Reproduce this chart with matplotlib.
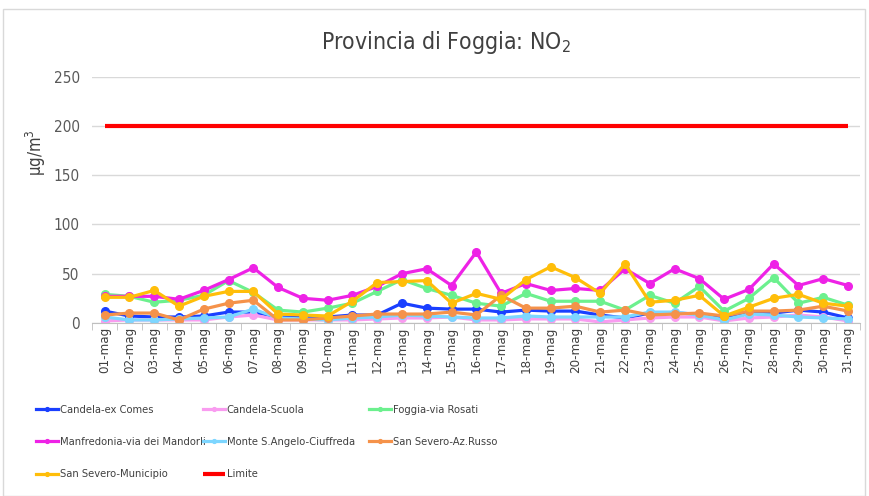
import numpy as np
import matplotlib
matplotlib.use('Agg')
import matplotlib.pyplot as plt
from matplotlib.patches import Rectangle

plt.rcParams['font.family'] = ['DejaVu Sans']
plt.rcParams['font.stretch'] = 'condensed'

# giorni di maggio
giorni = ['%02d-mag' % d for d in range(1, 32)]

candela_ex_comes = [12, 7, 6, 6, 7, 11, 11, 6, 6, 6, 8, 8, 20, 15, 14, 14, 11, 13, 12, 12, 8, 5, 10, 10, 9, 6, 11, 10, 13, 11, 5]
candela_scuola = [2, 3, 3, 3, 3, 6, 8, 3, 3, 3, 3, 4, 5, 5, 6, 3, 3, 4, 4, 4, 1, 3, 5, 6, 6, 2, 5, 6, 8, 6, 2]
foggia_rosati = [29, 27, 21, 23, 28, 43, 31, 13, 11, 15, 20, 32, 44, 35, 28, 20, 17, 30, 22, 22, 22, 13, 28, 20, 37, 12, 25, 46, 20, 26, 18]
manfredonia = [27, 27, 27, 24, 33, 44, 56, 36, 25, 23, 28, 37, 50, 55, 38, 72, 30, 40, 33, 35, 33, 55, 40, 55, 45, 24, 34, 60, 38, 45, 38]
monte_angelo = [6, 3, 3, 4, 5, 6, 14, 5, 4, 3, 5, 6, 8, 7, 6, 5, 5, 7, 6, 6, 6, 6, 11, 11, 8, 3, 9, 8, 6, 5, 4]
ss_russo = [8, 10, 10, 3, 14, 20, 23, 3, 3, 5, 7, 9, 9, 9, 11, 8, 28, 15, 15, 17, 11, 13, 8, 9, 10, 7, 12, 12, 13, 17, 12]
ss_municipio = [26, 26, 33, 17, 27, 32, 32, 9, 8, 7, 22, 41, 42, 43, 20, 30, 24, 44, 57, 46, 30, 60, 21, 23, 28, 7, 16, 25, 29, 20, 17]
limite = [200] * 31

serie = [
    ('Candela-ex Comes', candela_ex_comes, '#1A3FFF'),
    ('Candela-Scuola', candela_scuola, '#F99CF0'),
    ('Foggia-via Rosati', foggia_rosati, '#6CF08E'),
    ('Manfredonia-via dei Mandorli', manfredonia, '#EE22E6'),
    ('Monte S.Angelo-Ciuffreda', monte_angelo, '#7DD6FF'),
    ('San Severo-Az.Russo', ss_russo, '#F5924A'),
    ('San Severo-Municipio', ss_municipio, '#FFBE0A'),
]

fig = plt.figure(figsize=(8.7, 4.96), dpi=100)
ax = fig.add_axes([0.106, 0.349, 0.883, 0.496])

x = np.arange(len(giorni))
handles = []
for nome, vals, col in serie:
    h, = ax.plot(x, vals, color=col, lw=2.3, marker='o', ms=5.5, label=nome)
    handles.append(h)
h, = ax.plot(x, limite, color='#FF0000', lw=3, label='Limite', solid_capstyle='butt')
handles.append(h)

ax.set_xlim(-0.5, len(giorni) - 0.5)
ax.set_ylim(0, 250)
ax.set_yticks(range(0, 251, 50))
ax.grid(axis='y', color='#D9D9D9', lw=1)
ax.set_axisbelow(True)
for s in ['top', 'right', 'left']:
    ax.spines[s].set_visible(False)
ax.spines['bottom'].set_color('#BFBFBF')
ax.set_xticks(x)
ax.set_xticklabels(giorni, rotation=90, fontsize=9.5, color='#404040')
ax.set_xticks(np.arange(-0.5, len(giorni), 1), minor=True)
ax.tick_params(axis='x', which='major', length=0, pad=3)
ax.tick_params(axis='x', which='minor', length=5, color='#BFBFBF')
ax.tick_params(axis='y', length=0, labelsize=11, labelcolor='#595959', pad=9)
ax.set_ylabel('µg/m$^3$', fontsize=12, color='#404040', labelpad=2)
ax.yaxis.set_label_coords(-0.057, 0.69)

fig.text(0.512, 0.915, 'Provincia di Foggia: NO$_2$', ha='center', va='center', fontsize=16.5, color='#404040')

# legenda a tre colonne
colonne = [[0, 3, 6], [1, 4, 7], [2, 5]]
xpos = [36 / 870, 203 / 870, 369 / 870]
for xs, idx in zip(xpos, colonne):
    fig.legend([handles[i] for i in idx], [handles[i].get_label() for i in idx],
               loc='upper left', bbox_to_anchor=(xs, 0.1835), frameon=False,
               borderpad=0, borderaxespad=0,
               fontsize=8, handlelength=1.95, handletextpad=0.17,
               labelspacing=2.0, markerscale=0.5, labelcolor='#404040')

fig.patches.append(Rectangle((0.004, 0.0), 0.99, 0.982, transform=fig.transFigure,
                             fill=False, edgecolor='#D9D9D9', lw=1))

fig.savefig('out.png', dpi=100)
